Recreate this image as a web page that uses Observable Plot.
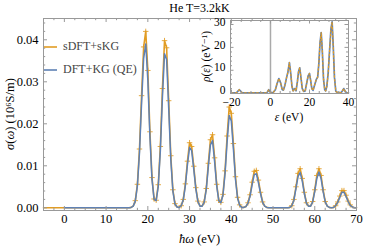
<!DOCTYPE html>
<html><head><meta charset="utf-8">
<script src="https://cdn.jsdelivr.net/npm/d3@7"></script>
<script src="https://cdn.jsdelivr.net/npm/@observablehq/plot@0.6"></script>
<style>
body{margin:0;background:#fff}
#wrap{position:relative;width:374px;height:247px;overflow:hidden}
#wrap svg{position:absolute}
</style></head><body><div id="wrap"></div>
<script>
// ---------- data ----------
const titleText = "He T=3.2kK";
const legendLabels = ["sDFT+sKG", "DFT+KG (QE)"];
const xMajor = [0, 10, 20, 30, 40, 50, 60, 70];
const yMajor = [0, 0.01, 0.02, 0.03, 0.04];
const insetXMajor = [-20, 0, 20, 40];
const insetYMajor = [0, 10, 20, 30];

// omega grids (eV)
const omegaQE = d3.range(0, 70.001, 0.5);
const omegaSDFT = d3.range(-5, 70.001, 0.5);

// sigma(omega) DFT+KG (QE), 10^6 S/m
const sigmaQE = [
0,0,0,0,0,0,0,0,0,0,0,0,0,0,0,0,0,0,0,0,0,0,0,0,0,0,0,0,0,0,0,0,
0.0001,0.0004,0.0016,0.0052,0.0131,0.0249,0.0356,0.0390,0.0304,0.0169,
0.0067,0.0020,0.0017,0.0051,0.0136,0.0264,0.0367,0.0353,0.0237,0.0115,
0.0040,0.0009,0.0002,0.0001,0.0005,0.0019,0.0053,0.0103,0.0144,0.0136,
0.0092,0.0045,0.0015,0.0004,0.0004,0.0013,0.0043,0.0098,0.0150,0.0160,
0.0110,0.0052,0.0017,0.0012,0.0030,0.0081,0.0157,0.0220,0.0207,0.0141,
0.0068,0.0023,0.0006,0.0001,0.0001,0.0003,0.0011,0.0028,0.0055,0.0079,
0.0081,0.0060,0.0034,0.0013,0.0004,0.0001,
0,0,0,0,0,0,0,0,0,0,
0.0001,0.0005,0.0018,0.0046,0.0075,0.0084,0.0064,0.0034,0.0011,0.0004,
0.0004,0.0014,0.0039,0.0070,0.0085,0.0070,0.0039,0.0014,0.0004,0.0001,
0.0000,0.0001,0.0005,0.0013,0.0025,0.0037,0.0037,0.0027,0.0015,0.0006,
0.0002,0.0000,0.0000
];

// sigma(omega) sDFT+sKG
const sigmaSDFT = [
0,0,0,0,0,0,0,0,0,0,
0,0,0,0,0,0,0,0,0,0,0,0,0,0,0,0,0,0,0,0,0,0,0,0,0,0,0,0,0,0,0,0,
0.0001,0.0004,0.0017,0.0056,0.0140,0.0267,0.0383,0.0420,0.0327,0.0181,
0.0072,0.0021,0.0018,0.0055,0.0146,0.0284,0.0398,0.0381,0.0255,0.0124,
0.0043,0.0010,0.0002,0.0001,0.0005,0.0020,0.0057,0.0111,0.0155,0.0146,
0.0099,0.0048,0.0016,0.0004,0.0004,0.0014,0.0046,0.0106,0.0162,0.0174,
0.0119,0.0056,0.0018,0.0013,0.0032,0.0088,0.0171,0.0240,0.0225,0.0153,
0.0074,0.0025,0.0007,0.0001,0.0001,0.0003,0.0012,0.0031,0.0061,0.0087,
0.0089,0.0066,0.0037,0.0014,0.0004,0.0001,
0,0,0,0,0,0,0,0,0,0,
0.0001,0.0005,0.0020,0.0050,0.0082,0.0093,0.0070,0.0037,0.0012,0.0004,
0.0004,0.0015,0.0043,0.0077,0.0093,0.0077,0.0043,0.0015,0.0004,0.0001,
0.0000,0.0001,0.0005,0.0014,0.0028,0.0041,0.0041,0.0030,0.0016,0.0007,
0.0002,0.0000,0.0000
];

// inset: density of states rho(eps), eV^-1
const epsDOS = [-20,-17.5,-16.8,-16.0,-15.2,-14.5,-2.0,-1.5,-0.9,-0.3,0.5,1.5,2.5,3.3,4.3,5.2,6.0,6.6,7.4,8.3,8.9,9.7,10.4,11.0,11.6,12.4,13.1,13.8,14.4,15.0,15.6,16.3,17.0,17.8,18.6,19.3,20.0,20.6,21.2,21.8,22.6,23.5,24.2,24.8,25.4,26.0,26.6,27.2,27.8,28.3,28.9,29.6,30.4,31.0,31.6,32.2,32.8,33.5,34.5,36.3,37.0,37.6,38.3,39.0,40.0];
const rhoQE = [0.1,0.1,0.8,1.5,0.8,0.1,0.1,0.6,1.5,0.6,0.2,0.4,1.5,4.0,6.4,4.5,1.6,1.3,3.5,7.0,9.0,13.4,8.5,3.0,1.0,2.0,1.0,5.0,9.5,11.1,7.0,2.0,0.8,1.0,4.5,7.5,8.6,5.5,2.0,1.2,3.5,6.0,7.0,13,22,26.5,18,6,1.5,1.0,3.0,9,20,28,31.2,20,7,0.8,0.2,0.3,1.2,2.0,0.8,0.2,0.1];
const rhoSDFT = [0.1,0.1,0.8,1.5,0.8,0.1,0.1,0.6,1.5,0.6,0.2,0.4,1.5,4.0,6.4,4.5,1.6,1.3,3.5,7.0,9.0,13.4,8.5,3.0,1.0,2.0,1.0,5.0,9.5,11.1,7.0,2.0,0.8,1.0,4.5,7.5,8.6,5.5,2.0,1.2,3.5,6.0,7.0,13,22,26.5,18,6,1.5,1.0,3.0,9,20,28,31.2,20,7,0.8,0.2,0.3,1.2,2.0,0.8,0.2,0.1];

if (sigmaQE.length !== omegaQE.length || sigmaSDFT.length !== omegaSDFT.length || epsDOS.length !== rhoQE.length)
  throw new Error(`length mismatch ${sigmaQE.length}/${omegaQE.length} ${sigmaSDFT.length}/${omegaSDFT.length} ${epsDOS.length}/${rhoQE.length}`);

const qeData = omegaQE.map((w, i) => ({w, s: sigmaQE[i]}));
const sdftData = omegaSDFT.map((w, i) => ({w, s: sigmaSDFT[i]}));
const dosQE = epsDOS.map((e, i) => ({e, r: rhoQE[i]}));
const dosSDFT = epsDOS.map((e, i) => ({e, r: rhoSDFT[i]}));

// ---------- style ----------
const ORANGE = "#E19C24", BLUE = "#5E81B5", FRAME = "#999";
const FONT = "'Liberation Serif', 'DejaVu Serif', serif";
const xMinor = d3.range(-5, 70.01, 2.5).filter(v => !xMajor.includes(v));
const yMinor = d3.range(0, 0.0445, 0.002).filter(v => !yMajor.some(m => Math.abs(m - v) < 1e-9));
const ixMinor = d3.range(-20, 40.01, 5).filter(v => !insetXMajor.includes(v));
const iyMinor = d3.range(0, 31.01, 2).filter(v => !insetYMajor.includes(v));

const W = 374, H = 247, mL = 43, mR = 18, mT = 18, mB = 37;
const fw = W - mL - mR, fh = H - mT - mB;

function ticksFor(xs, ys, xsMinor, ysMinor, fwid, fhei, maj, min) {
  return [
    Plot.tickX(xs, {x: d => d, insetTop: fhei - maj, stroke: FRAME}),
    Plot.tickX(xs, {x: d => d, insetBottom: fhei - maj, stroke: FRAME}),
    Plot.tickX(xsMinor, {x: d => d, insetTop: fhei - min, stroke: FRAME}),
    Plot.tickX(xsMinor, {x: d => d, insetBottom: fhei - min, stroke: FRAME}),
    Plot.tickY(ys, {y: d => d, insetRight: fwid - maj, stroke: FRAME}),
    Plot.tickY(ys, {y: d => d, insetLeft: fwid - maj, stroke: FRAME}),
    Plot.tickY(ysMinor, {y: d => d, insetRight: fwid - min, stroke: FRAME}),
    Plot.tickY(ysMinor, {y: d => d, insetLeft: fwid - min, stroke: FRAME})
  ];
}

const main = Plot.plot({
  width: W, height: H, marginLeft: mL, marginRight: mR, marginTop: mT, marginBottom: mB,
  style: {fontFamily: FONT, fontSize: "12.5px", background: "white", color: "black", overflow: "visible"},
  x: {domain: [-5, 70]},
  y: {domain: [-0.00064, 0.04507]},
  marks: [
    Plot.lineY(sdftData, {x: "w", y: "s", stroke: ORANGE, strokeWidth: 1.6}),
    Plot.dot(sdftData.filter(d => d.s > 0.0004), {x: "w", y: "s", symbol: "plus", r: 1.9, stroke: ORANGE, strokeWidth: 1, strokeOpacity: 0.85}),
    Plot.lineY(qeData, {x: "w", y: "s", stroke: BLUE, strokeWidth: 1.5}),
    ...ticksFor(xMajor, yMajor, xMinor, yMinor, fw, fh, 4, 2.2),
    Plot.frame({stroke: FRAME}),
    Plot.axisX({ticks: xMajor, tickSize: 0, tickPadding: 4, tickFormat: d => String(d), label: null, fontSize: 12.5}),
    Plot.axisY({ticks: yMajor, tickSize: 0, tickPadding: 5, tickFormat: d3.format(".2f"), label: null, fontSize: 12.5})
  ]
});
main.style.left = "0px"; main.style.top = "0px";
document.getElementById("wrap").appendChild(main);

// title, axis labels, legend (text)
const ms = d3.select(main);
ms.append("text").attr("x", 199.5).attr("y", 9).attr("text-anchor", "middle").attr("dominant-baseline", "middle")
  .attr("font-family", FONT).attr("font-size", 12).attr("fill", "black").text(titleText);
const yl = ms.append("text").attr("transform", "translate(11,114) rotate(-90)").attr("text-anchor", "middle")
  .attr("dominant-baseline", "middle").attr("font-family", FONT).attr("font-size", 12.5).attr("fill", "black");
yl.append("tspan").attr("font-style", "italic").text("σ");
yl.append("tspan").text("(");
yl.append("tspan").attr("font-style", "italic").text("ω");
yl.append("tspan").text(") (10⁶S/m)");
const xl = ms.append("text").attr("x", 199.5).attr("y", 240).attr("text-anchor", "middle")
  .attr("dominant-baseline", "middle").attr("font-family", FONT).attr("font-size", 12.5).attr("fill", "black");
xl.append("tspan").attr("font-style", "italic").text("ħω");
xl.append("tspan").text(" (eV)");
[[ORANGE, 47, legendLabels[0]], [BLUE, 70, legendLabels[1]]].forEach(([c, y, t]) => {
  ms.append("line").attr("x1", 44).attr("x2", 57).attr("y1", y).attr("y2", y).attr("stroke", c).attr("stroke-width", 1.6);
  ms.append("text").attr("x", 63).attr("y", y).attr("text-anchor", "start").attr("dominant-baseline", "middle").attr("font-family", FONT)
    .attr("font-size", 12).attr("fill", "#444").text(t);
});

// ---------- inset ----------
const iW = 165, iH = 125, iL = 35, iR = 12, iT = 15, iB = 37;
const ifw = iW - iL - iR, ifh = iH - iT - iB;
const inset = Plot.plot({
  width: iW, height: iH, marginLeft: iL, marginRight: iR, marginTop: iT, marginBottom: iB,
  style: {fontFamily: FONT, fontSize: "11.5px", background: "transparent", color: "black", overflow: "visible"},
  x: {domain: [-20.5, 40]},
  y: {domain: [-0.15, 31.75]},
  marks: [
    Plot.frame({fill: "white", stroke: "none"}),
    Plot.ruleX([0], {stroke: "#aaa", strokeWidth: 1.5}),
    Plot.lineY(dosQE, {x: "e", y: "r", stroke: BLUE, strokeWidth: 1.7}),
    Plot.lineY(dosSDFT, {x: "e", y: "r", stroke: ORANGE, strokeWidth: 1.2, strokeDasharray: "1.6,2.4"}),
    ...ticksFor(insetXMajor, insetYMajor, ixMinor, iyMinor, ifw, ifh, 3.5, 2),
    Plot.frame({stroke: FRAME}),
    Plot.axisX({ticks: insetXMajor, tickSize: 0, tickPadding: 4, tickFormat: d => d < 0 ? "−" + Math.abs(d) : String(d), label: null, fontSize: 11.5}),
    Plot.axisY({ticks: insetYMajor, tickSize: 0, tickPadding: 5, tickFormat: d => String(d), label: null, fontSize: 11.5, dy: -2.5})
  ]
});
inset.style.left = "195px"; inset.style.top = "5px";
document.getElementById("wrap").appendChild(inset);
const is = d3.select(inset);
const iyl = is.append("text").attr("transform", `translate(12,${iT + ifh / 2}) rotate(-90)`).attr("text-anchor", "middle")
  .attr("dominant-baseline", "middle").attr("font-family", FONT).attr("font-size", 11.5).attr("fill", "black");
iyl.append("tspan").attr("font-style", "italic").text("ρ");
iyl.append("tspan").text("(");
iyl.append("tspan").attr("font-style", "italic").text("ε");
iyl.append("tspan").text(") (eV⁻¹)");
const ixl = is.append("text").attr("x", iL + ifw / 2).attr("y", iT + ifh + 25).attr("text-anchor", "middle")
  .attr("dominant-baseline", "middle").attr("font-family", FONT).attr("font-size", 11.5).attr("fill", "black");
ixl.append("tspan").attr("font-style", "italic").text("ε");
ixl.append("tspan").text(" (eV)");
</script></body></html>
